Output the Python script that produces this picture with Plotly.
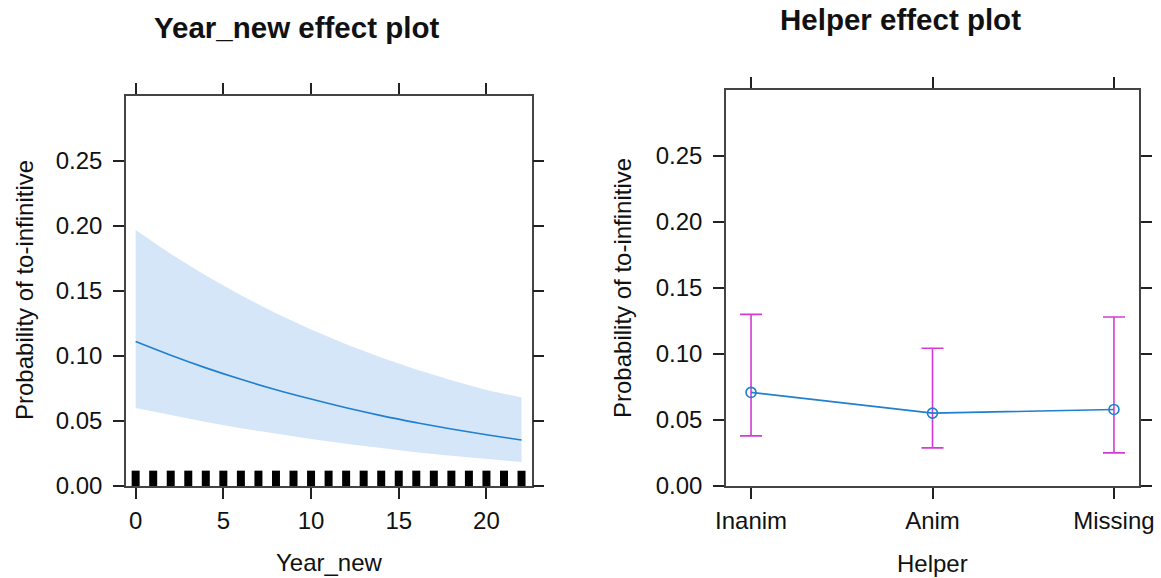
import plotly.graph_objects as go

# Year_new effect: fitted probability with 95% band (every 2 years)
years = [0, 2, 4, 6, 8, 10, 12, 14, 16, 18, 20, 22]
fit = [0.111, 0.1005, 0.0908, 0.0820, 0.0740, 0.0668, 0.0601, 0.0541, 0.0487, 0.0438, 0.0394, 0.0354]
upper = [0.1967, 0.1784, 0.1618, 0.1466, 0.1328, 0.1203, 0.1090, 0.0988, 0.0896, 0.0813, 0.0738, 0.0680]
lower = [0.0599, 0.0543, 0.0492, 0.0444, 0.0401, 0.0361, 0.0324, 0.0290, 0.0260, 0.0232, 0.0206, 0.0185]

# observed Year_new values shown as a rug
rug_years = list(range(0, 23))
rug_height = 0.0118

# Helper effect: estimate with 95% interval
helper = ["Inanim", "Anim", "Missing"]
helper_fit = [0.0709, 0.0552, 0.0580]
helper_upper = [0.130, 0.1043, 0.128]
helper_lower = [0.038, 0.0289, 0.0251]

y_ticks = [0.00, 0.05, 0.10, 0.15, 0.20, 0.25]
x_ticks = [0, 5, 10, 15, 20]

W, H = 1161, 578
FONT = "Liberation Sans, Arial, sans-serif"
LINE_BLUE = "#1f7fd0"
BAND = "#d5e6f9"
CI_PINK = "#d63ad6"


def px(x):
    return x / W


def py(y):
    return 1 - y / H


fig = go.Figure()

# confidence band
fig.add_trace(go.Scatter(x=years, y=lower, mode="lines", line=dict(width=0),
                         hoverinfo="skip", showlegend=False, xaxis="x", yaxis="y"))
fig.add_trace(go.Scatter(x=years, y=upper, mode="lines", line=dict(width=0),
                         fill="tonexty", fillcolor=BAND, showlegend=False,
                         xaxis="x", yaxis="y"))
# fitted curve
fig.add_trace(go.Scatter(x=years, y=fit, mode="lines", line=dict(color=LINE_BLUE, width=1.6, shape="spline"),
                         showlegend=False, xaxis="x", yaxis="y"))
# rug
rx, ry = [], []
for yr in rug_years:
    rx += [yr, yr, None]
    ry += [0, rug_height, None]
fig.add_trace(go.Scatter(x=rx, y=ry, mode="lines", line=dict(color="black", width=8),
                         showlegend=False, xaxis="x", yaxis="y"))

# Helper effect with error bars
fig.add_trace(go.Scatter(
    x=helper, y=helper_fit, mode="lines+markers",
    line=dict(color=LINE_BLUE, width=1.6),
    marker=dict(symbol="circle-open", size=10, color=LINE_BLUE, line=dict(width=1.6)),
    error_y=dict(type="data", symmetric=False,
                 array=[u - f for u, f in zip(helper_upper, helper_fit)],
                 arrayminus=[f - l for f, l in zip(helper_fit, helper_lower)],
                 color=CI_PINK, thickness=1.6, width=11),
    showlegend=False, xaxis="x2", yaxis="y2"))

axis_common = dict(
    showline=True, linecolor="#444", linewidth=1.5, mirror="ticks",
    ticks="outside", ticklen=11, tickwidth=1.5, tickcolor="#222",
    showgrid=False, zeroline=False, automargin=False,
    tickfont=dict(family=FONT, size=24, color="#111"),
)

fig.update_layout(
    width=W, height=H, autosize=False,
    margin=dict(l=0, r=0, t=0, b=0, pad=0),
    paper_bgcolor="white", plot_bgcolor="white",
    xaxis=dict(domain=[px(126), px(531.7)], range=[-0.55, 22.58],
               tickvals=x_ticks, ticklabelstandoff=1, anchor="y", **axis_common),
    yaxis=dict(domain=[py(486), py(95.7)], range=[0, 0.30],
               tickvals=y_ticks, tickformat=".2f", ticklabelstandoff=6, anchor="x", **axis_common),
    xaxis2=dict(domain=[px(726), px(1139)], range=[-0.138, 2.138],
                type="category", categoryarray=helper, ticklabelstandoff=1,
                anchor="y2", **axis_common),
    yaxis2=dict(domain=[py(486), py(90)], range=[0, 0.30],
                tickvals=y_ticks, tickformat=".2f", ticklabelstandoff=6, anchor="x2", **axis_common),
)

annots = [
    dict(text="<b>Year_new effect plot</b>", x=px(296), y=py(27), size=29.5, angle=0),
    dict(text="<b>Helper effect plot</b>", x=px(900), y=py(20), size=29.5, angle=0),
    dict(text="Year_new", x=px(329), y=py(562), size=24, angle=0),
    dict(text="Helper", x=px(932), y=py(563), size=24, angle=0),
    dict(text="Probability of to-infinitive", x=px(24), y=py(290), size=24, angle=-90),
    dict(text="Probability of to-infinitive", x=px(622), y=py(288), size=24, angle=-90),
]
for a in annots:
    fig.add_annotation(text=a["text"], x=a["x"], y=a["y"], xref="paper", yref="paper",
                       xanchor="center", yanchor="middle", showarrow=False, textangle=a["angle"],
                       font=dict(family=FONT, size=a["size"], color="#111"))

fig.write_html("out.html", post_script="document.body.style.margin='0';document.body.style.overflow='hidden';")
